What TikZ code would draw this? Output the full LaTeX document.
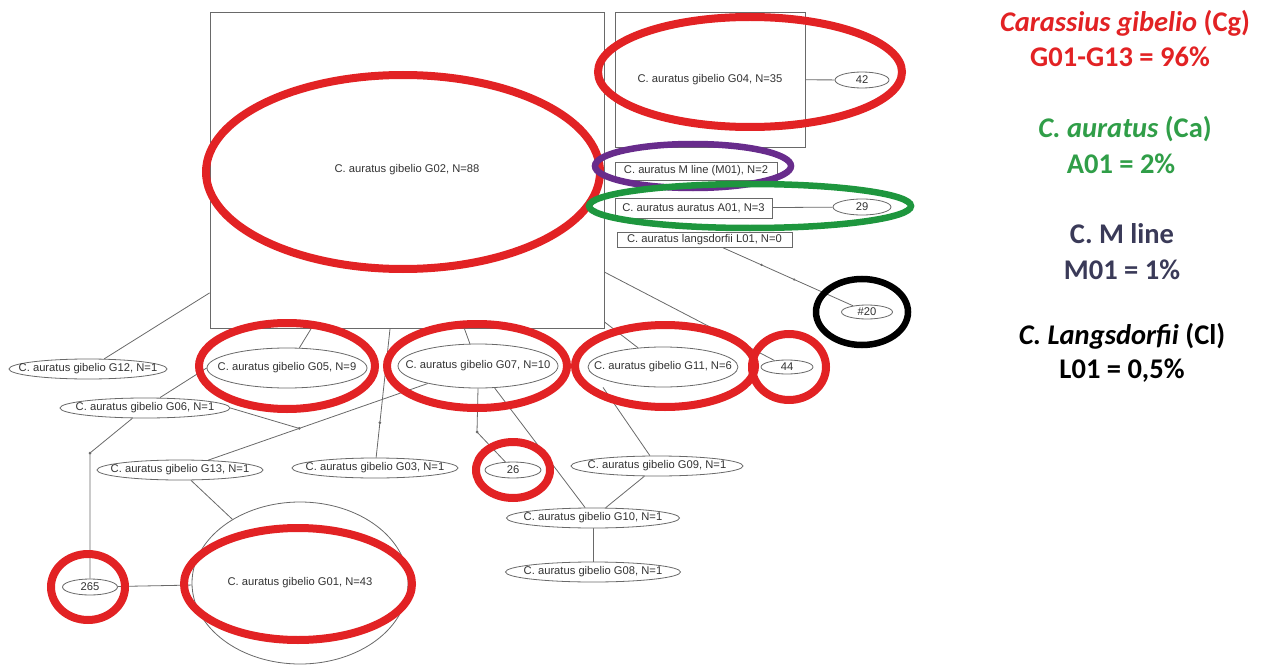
\documentclass[tikz,border=0pt]{standalone}
\usepackage{fontspec}
\setmainfont{Liberation Sans}
\newfontfamily\legendfont{Carlito}
\usetikzlibrary{shapes.geometric,backgrounds,calc}
\definecolor{hlred}{RGB}{226,34,36}
\definecolor{hlgreen}{RGB}{30,150,62}
\definecolor{hlpurple}{RGB}{104,44,140}
\definecolor{txtgreen}{RGB}{48,158,72}
\definecolor{txtslate}{RGB}{58,58,88}
\definecolor{linegray}{RGB}{105,105,105}
\newcommand{\zw}[1]{\makebox[0pt]{#1}}
\tikzset{
  conn/.style={draw=linegray, line width=0.8pt},
  lbl/.style={ellipse, draw=linegray, fill=white, line width=0.8pt, inner sep=0pt, font=\fontsize{11.2}{13}\selectfont, text=black!80},
  boxnode/.style={rectangle, draw=linegray, fill=white, line width=0.8pt, inner sep=0pt, font=\fontsize{11.2}{13}\selectfont, text=black!80},
  hl/.style={line width=8pt},
  jdot/.style={circle, fill=linegray, inner sep=0pt, minimum size=3pt},
  legend/.style={font=\legendfont\bfseries\fontsize{28.5}{32}\selectfont, anchor=center, inner sep=0pt}
}
\begin{document}
\begin{tikzpicture}[x=1pt,y=-1pt]
\useasboundingbox (0,0) rectangle (1261,666);

% boxes
\node[boxnode, minimum width=394, minimum height=316] (g02) at (407,170) {C. auratus gibelio G02, N=88};
\node[boxnode, minimum width=190, minimum height=135] (g04) at (710,79.5) {C. auratus gibelio G04, N=35};
\node[boxnode, minimum width=162, minimum height=18] (m01) at (696,171) {C. auratus M line (M01), N=2};
\node[boxnode, minimum width=157, minimum height=20] (a01) at (693.5,208) {C. auratus auratus A01, N=3};
\node[boxnode, minimum width=175, minimum height=15] (l01) at (704.5,239.5) {C. auratus langsdorfii L01, N=0};

% ellipse nodes
\node[lbl, minimum width=54, minimum height=16] (n42) at (862,80) {\zw{42}};
\node[lbl, minimum width=58, minimum height=16] (n29) at (862,207) {\zw{29}};
\node[lbl, minimum width=51, minimum height=14] (n20) at (867,312) {\zw{\#20}};
\node[lbl, minimum width=52, minimum height=14] (n44) at (787,367) {\zw{44}};
\node[lbl, minimum width=160, minimum height=40] (g05) at (287,368) {\zw{C. auratus gibelio G05, N=9}};
\node[lbl, minimum width=160, minimum height=44] (g07) at (478,366) {\zw{C. auratus gibelio G07, N=10}};
\node[lbl, minimum width=150, minimum height=40] (g11) at (663,367) {\zw{C. auratus gibelio G11, N=6}};
\node[lbl, minimum width=158, minimum height=20] (g12) at (88,369) {\zw{C. auratus gibelio G12, N=1}};
\node[lbl, minimum width=170, minimum height=20] (g06) at (145,408) {\zw{C. auratus gibelio G06, N=1}};
\node[lbl, minimum width=166, minimum height=20] (g13) at (180,470) {\zw{C. auratus gibelio G13, N=1}};
\node[lbl, minimum width=166, minimum height=20] (g03) at (375,468) {\zw{C. auratus gibelio G03, N=1}};
\node[lbl, minimum width=56, minimum height=16] (n26) at (513,470) {\zw{26}};
\node[lbl, minimum width=172, minimum height=20] (g09) at (657,466) {\zw{C. auratus gibelio G09, N=1}};
\node[lbl, minimum width=173, minimum height=20] (g10) at (593,518) {\zw{C. auratus gibelio G10, N=1}};
\node[lbl, minimum width=175, minimum height=20] (g08) at (593,572) {\zw{C. auratus gibelio G08, N=1}};
\node[lbl, minimum width=55, minimum height=16] (n265) at (90,587) {\zw{265}};
\node[lbl, minimum width=216, minimum height=162] (g01) at (300,583) {\zw{C. auratus gibelio G01, N=43}};

% junction coordinates
\coordinate (j6) at ($(g13)!0.40!(g07)$);
\coordinate (j265) at (90,453);
\coordinate (j26) at (477,432);

% connectors
\begin{pgfonlayer}{background}
\draw[conn] (g12) -- (g02);
\draw[conn] ([xshift=15pt]g06.north) -- (g05.west);
\draw[conn] (g06.east) -- (j6);
\draw[conn] (g13) -- (g07);
\draw[conn] (g06) -- (j265) -- (n265);
\draw[conn] (g13) -- (g01);
\draw[conn] (n265) -- (g01);
\draw[conn] (g05) -- (g02);
\draw[conn] (g03) -- node[jdot, pos=0.27] (d3) {} (g02);
\draw[conn] (g07) -- (g02);
\draw[conn] (g11) -- (g02);
\draw[conn] (n44) -- (g02);
\draw[conn] (g07.south) -- (j26) -- (n26);
\draw[conn] (g07) -- (g10);
\draw[conn] ([xshift=-60pt]g11.south) -- (g09);
\draw[conn] (g09) -- (g10);
\draw[conn] (g10) -- (g08);
\draw[conn] (g04) -- (n42);
\draw[conn] (a01) -- (n29);
\draw[conn] (l01) -- node[jdot, pos=0.3, minimum size=2.5pt] (d20a) {} node[jdot, pos=0.55, minimum size=2.5pt] (d20b) {} node[jdot, pos=0.8, minimum size=2.5pt] (d20c) {} (n20);
\node[jdot] (dj265) at (j265) {};
\node[jdot] (dj26) at (j26) {};
\node[jdot] (dj6) at (j6) {};
\end{pgfonlayer}

% highlight rings
\draw[hl, hlred] (403,172) ellipse [x radius=197, y radius=97];
\draw[hl, hlred] (750,72) ellipse [x radius=152, y radius=55];
\draw[hl, hlred] (287,366) ellipse [x radius=88, y radius=43];
\draw[hl, hlred] (477,366) ellipse [x radius=90, y radius=42];
\draw[hl, hlred] (665,366) ellipse [x radius=90, y radius=41];
\draw[hl, hlred] (789,367) ellipse [x radius=37, y radius=33];
\draw[hl, hlred] (513,470) ellipse [x radius=37, y radius=28];
\draw[hl, hlred] (88,587) ellipse [x radius=37, y radius=33];
\draw[hl, hlred] (298,584) ellipse [x radius=114, y radius=56];
\draw[line width=6.5pt, hlpurple] (693,166) ellipse [x radius=98, y radius=22];
\draw[line width=6.5pt, hlgreen] (750,206) ellipse [x radius=161, y radius=22];
\draw[line width=6.5pt, black] (862,312) ellipse [x radius=46, y radius=33];

% legend
\node[legend, text=hlred] (lg1) at (1125,23) {\itshape Carassius gibelio\upshape{} (Cg)};
\node[legend, text=hlred] (lg2) at (1120,57) {G01-G13 = 96\%};
\node[legend, text=txtgreen] (lg3) at (1125,129) {\itshape C. auratus\upshape{} (Ca)};
\node[legend, text=txtgreen] (lg4) at (1121,164) {A01 = 2\%};
\node[legend, text=txtslate] (lg5) at (1122,234) {C. M line};
\node[legend, text=txtslate] (lg6) at (1122,270) {M01 = 1\%};
\node[legend, text=black] (lg7) at (1122,336) {\itshape C. Langsdorfii\upshape{} (Cl)};
\node[legend, text=black] (lg8) at (1122,371) {L01 = 0,5\%};
\end{tikzpicture}
\end{document}
